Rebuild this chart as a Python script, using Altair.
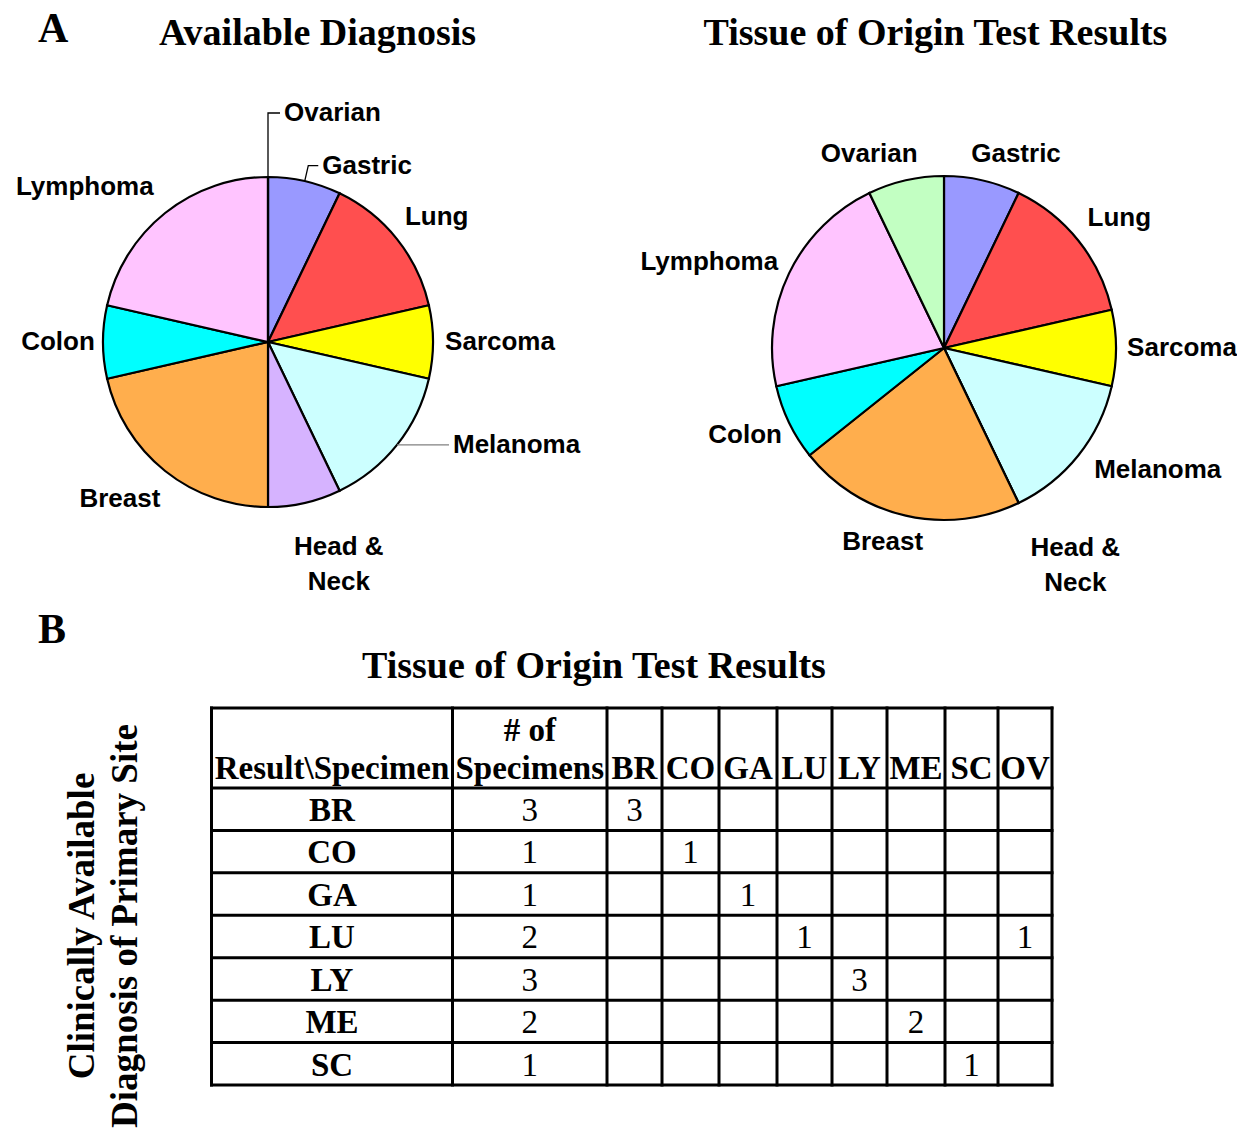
import math
import altair as alt
import pandas as pd

# ---------------- data ----------------
categories = ["Gastric", "Lung", "Sarcoma", "Melanoma", "Head & Neck",
              "Breast", "Colon", "Lymphoma", "Ovarian"]
available_diagnosis = [1, 2, 1, 2, 1, 3, 1, 3, 0]
tissue_of_origin = [1, 2, 1, 2, 0, 3, 1, 3, 1]

table_rows = ["BR", "CO", "GA", "LU", "LY", "ME", "SC"]
num_specimens = [3, 1, 1, 2, 3, 2, 1]
result_cols = ["BR", "CO", "GA", "LU", "LY", "ME", "SC", "OV"]
result_counts = [
    [3, 0, 0, 0, 0, 0, 0, 0],
    [0, 1, 0, 0, 0, 0, 0, 0],
    [0, 0, 1, 0, 0, 0, 0, 0],
    [0, 0, 0, 1, 0, 0, 0, 1],
    [0, 0, 0, 0, 3, 0, 0, 0],
    [0, 0, 0, 0, 0, 2, 0, 0],
    [0, 0, 0, 0, 0, 0, 1, 0],
]
header_first = "Result\\Specimen"
header_second = "# of\nSpecimens"

# ---------------- styles / layout ----------------
SERIF = "Liberation Serif"
SANS = "Liberation Sans"
fills_a = ["#9999FF", "#FF4F4F", "#FFFF00", "#CCFFFF", "#D6B3FF",
           "#FFAE4D", "#00FFFF", "#FFC4FF", "#C2FFC2"]
fills_b = ["#9999FF", "#FF4F4F", "#FFFF00", "#CCFFFF", "#D6B3FF",
           "#FFAE4D", "#00FFFF", "#FF94FF", "#B8FFB8"]
label_text = {"Head & Neck": "Head &\nNeck"}

# label placement: (angle nudge from slice middle in degrees, radius px)
placed_a = {"Lung": (2.0, 210), "Sarcoma": (0, 232), "Head & Neck": (-6.2, 217),
            "Breast": (4.7, 216), "Colon": (0, 210), "Lymphoma": (-11.2, 240)}
leaders_a = {"Ovarian": (229, 12, "#000000"), "Gastric": (181, 10, "#000000"),
             "Melanoma": (165, 52, "#808080")}
placed_b = {"Ovarian": (-8.2, 208), "Gastric": (7.5, 207), "Lung": (2.1, 218),
            "Lymphoma": (-5.6, 250), "Sarcoma": (0, 238), "Colon": (2.1, 217),
            "Melanoma": (-8.9, 246), "Breast": (4.7, 203.5), "Head & Neck": (-7.6, 239)}

ROW_H_PX = 535


def polar(r, deg):
    t = math.radians(deg)
    return r * math.sin(t), r * math.cos(t)


def pie(counts, fills, W, H, cx, cy, R, placed, leaders, annotations):
    total = float(sum(counts))
    recs, cum = [], 0.0
    for i, (cat, n) in enumerate(zip(categories, counts)):
        a0 = cum / total * 360.0
        cum += n
        a1 = cum / total * 360.0
        recs.append({"category": cat, "count": n, "order": i, "mid": (a0 + a1) / 2})
    df = pd.DataFrame(recs)
    mid = dict(zip(df["category"], df["mid"]))

    xs = alt.Scale(domain=[-cx, W - cx], nice=False, zero=False)
    ys = alt.Scale(domain=[-(H - cy), cy], nice=False, zero=False)

    arcs = alt.Chart(df).mark_arc(outerRadius=R, stroke="black", strokeWidth=2.2).encode(
        x=alt.value(cx), y=alt.value(cy),
        theta=alt.Theta("count:Q", stack=True),
        color=alt.Color("category:N", scale=alt.Scale(domain=categories, range=fills), legend=None),
        order=alt.Order("order:Q"),
    )
    layers = [arcs]

    lab_c = []
    for cat, (nudge, r) in placed.items():
        x, y = polar(r, mid[cat] + nudge)
        lab_c.append({"label": label_text.get(cat, cat), "x": x, "y": y})
    if lab_c:
        layers.append(alt.Chart(pd.DataFrame(lab_c)).mark_text(
            font=SANS, fontSize=26, fontWeight="bold", align="center", baseline="middle",
            lineBreak="\n", lineHeight=35, color="black").encode(
            x=alt.X("x:Q", scale=xs, axis=None), y=alt.Y("y:Q", scale=ys, axis=None), text="label:N"))

    pts, lab_l = [], []
    for cat, (r_ext, h_len, col) in leaders.items():
        x0, y0 = polar(R, mid[cat])
        x1, y1 = polar(r_ext, mid[cat])
        x2 = x1 + h_len
        for k, (px, py) in enumerate([(x0, y0), (x1, y1), (x2, y1)]):
            pts.append({"label": cat, "k": k, "x": px, "y": py, "col": col})
        lab_l.append({"label": label_text.get(cat, cat), "x": x2 + 4, "y": y1})
    if pts:
        layers.append(alt.Chart(pd.DataFrame(pts)).mark_line(strokeWidth=1.3).encode(
            x=alt.X("x:Q", scale=xs, axis=None), y=alt.Y("y:Q", scale=ys, axis=None),
            detail="label:N", order="k:Q", color=alt.Color("col:N", scale=None)))
        layers.append(alt.Chart(pd.DataFrame(lab_l)).mark_text(
            font=SANS, fontSize=26, fontWeight="bold", align="left", baseline="middle",
            color="black").encode(
            x=alt.X("x:Q", scale=xs, axis=None), y=alt.Y("y:Q", scale=ys, axis=None), text="label:N"))

    for (txt, px, py, size, align) in annotations:
        layers.append(alt.Chart(pd.DataFrame({"t": [txt]})).mark_text(
            font=SERIF, fontSize=size, fontWeight="bold", align=align, baseline="alphabetic",
            color="black").encode(x=alt.value(px), y=alt.value(py), text="t:N"))

    return alt.layer(*layers).properties(width=W, height=H)


pie_a = pie(available_diagnosis, fills_a, 520, ROW_H_PX, 260, 280, 165, placed_a, leaders_a,
            [("A", 30, -20, 42, "left"), ("Available Diagnosis", 309.5, -17, 38, "center")])
pie_b = pie(tissue_of_origin, fills_b, 580, ROW_H_PX, 290, 286, 172, placed_b, {},
            [("Tissue of Origin Test Results", 281.5, -17, 38, "center")])

# ---------------- table ----------------
TW = 1044
T_TOP = 107          # table top, px below panel top
TH = 377             # table height
PANEL_H = 490
TABLE_X0 = 203.5
COL_W = [241, 154.5, 55, 57, 58, 55, 55, 58, 53, 54]
HEADER_H = 80
ROW_H = (TH - HEADER_H) / len(table_rows)
HEADER_BASE = 71
HEAD_LH = 38
ROW_BASE = 33

edges = [TABLE_X0]
for w in COL_W:
    edges.append(edges[-1] + w)
centers = [(edges[i] + edges[i + 1]) / 2 for i in range(len(COL_W))]
row_edges = [0, HEADER_H] + [HEADER_H + ROW_H * (i + 1) for i in range(len(table_rows))]

txs = alt.Scale(domain=[0, TW], nice=False, zero=False)
tys = alt.Scale(domain=[-T_TOP, PANEL_H - T_TOP], nice=False, zero=False, reverse=True)

vr = pd.DataFrame({"x": edges, "y": [0] * len(edges), "y2": [TH] * len(edges)})
hr = pd.DataFrame({"y": row_edges, "x": [edges[0]] * len(row_edges), "x2": [edges[-1]] * len(row_edges)})

vrules = alt.Chart(vr).mark_rule(strokeWidth=3, color="black", strokeCap="square").encode(
    x=alt.X("x:Q", scale=txs, axis=None), y=alt.Y("y:Q", scale=tys, axis=None), y2="y2:Q")
hrules = alt.Chart(hr).mark_rule(strokeWidth=3, color="black", strokeCap="square").encode(
    x=alt.X("x:Q", scale=txs, axis=None), x2="x2:Q", y=alt.Y("y:Q", scale=tys, axis=None))

headers = [header_first, header_second] + result_cols
hdf = pd.DataFrame({
    "text": headers,
    "x": centers,
    "y": [HEADER_BASE - (h.count("\n")) * HEAD_LH for h in headers],
})
bold_recs, num_recs = [], []
for i, (site, n) in enumerate(zip(table_rows, num_specimens)):
    yb = HEADER_H + i * ROW_H + ROW_BASE
    bold_recs.append({"text": site, "x": centers[0], "y": yb})
    num_recs.append({"text": str(n), "x": centers[1], "y": yb})
    for j, v in enumerate(result_counts[i]):
        if v:
            num_recs.append({"text": str(v), "x": centers[2 + j], "y": yb})
hdf = pd.concat([hdf, pd.DataFrame(bold_recs)], ignore_index=True)
ndf = pd.DataFrame(num_recs)

head_text = alt.Chart(hdf).mark_text(font=SERIF, fontSize=33, fontWeight="bold", align="center",
                                     baseline="alphabetic", lineBreak="\n", lineHeight=HEAD_LH,
                                     color="black").encode(
    x=alt.X("x:Q", scale=txs, axis=None), y=alt.Y("y:Q", scale=tys, axis=None), text="text:N")
num_text = alt.Chart(ndf).mark_text(font=SERIF, fontSize=33, align="center",
                                    baseline="alphabetic", color="black").encode(
    x=alt.X("x:Q", scale=txs, axis=None), y=alt.Y("y:Q", scale=tys, axis=None), text="text:N")

side_title = alt.Chart(pd.DataFrame({"t": ["Clinically Available\nDiagnosis of Primary Site"]})).mark_text(
    font=SERIF, fontSize=37, fontWeight="bold", angle=270, align="center", baseline="alphabetic",
    lineBreak="\n", lineHeight=43, color="black").encode(x=alt.value(86), y=alt.value(325), text="t:N")
b_label = alt.Chart(pd.DataFrame({"t": ["B"]})).mark_text(
    font=SERIF, fontSize=42, fontWeight="bold", align="left", baseline="alphabetic",
    color="black").encode(x=alt.value(30), y=alt.value(42), text="t:N")
t_title = alt.Chart(pd.DataFrame({"t": ["Tissue of Origin Test Results"]})).mark_text(
    font=SERIF, fontSize=38, fontWeight="bold", align="center", baseline="alphabetic",
    color="black").encode(x=alt.value(586), y=alt.value(77), text="t:N")

table = alt.layer(vrules, hrules, head_text, num_text, side_title, b_label, t_title).properties(
    width=TW, height=PANEL_H)

top_row = alt.hconcat(pie_a, pie_b, spacing=126, bounds="flush")
chart = alt.vconcat(top_row, table, spacing=4).properties(
    padding=0).configure_view(stroke=None)

chart.save("out.html", embed_options={"renderer": "svg", "actions": False})
